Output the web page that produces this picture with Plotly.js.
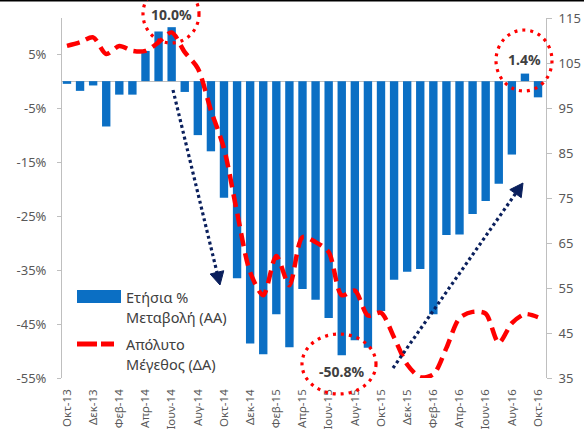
<!DOCTYPE html>
<html>
<head>
<meta charset="utf-8">
<script src="https://cdn.plot.ly/plotly-3.0.1.min.js"></script>
<style>html,body{margin:0;padding:0;background:#fff;}#chart{width:584px;height:434px;}</style>
</head>
<body>
<div id="chart"></div>
<script>
const months = ['Οκτ-13','Νοε-13','Δεκ-13','Ιαν-14','Φεβ-14','Μαρ-14','Απρ-14','Μαϊ-14','Ιουν-14','Ιουλ-14','Αυγ-14','Σεπ-14',
  'Οκτ-14','Νοε-14','Δεκ-14','Ιαν-15','Φεβ-15','Μαρ-15','Απρ-15','Μαϊ-15','Ιουν-15','Ιουλ-15','Αυγ-15','Σεπ-15',
  'Οκτ-15','Νοε-15','Δεκ-15','Ιαν-16','Φεβ-16','Μαρ-16','Απρ-16','Μαϊ-16','Ιουν-16','Ιουλ-16','Αυγ-16','Σεπ-16','Οκτ-16'];
const tickLabels = ['Οκτ-13','Δεκ-13','Φεβ-14','Απρ-14','Ιουν-14','Αυγ-14','Οκτ-14','Δεκ-14','Φεβ-15','Απρ-15',
  'Ιουν-15','Αυγ-15','Οκτ-15','Δεκ-15','Φεβ-16','Απρ-16','Ιουν-16','Αυγ-16','Οκτ-16'];
const yoyChange = [-0.5,-1.8,-0.8,-8.4,-2.5,-2.5,5.6,9.2,10.0,-2.0,-10.0,-13.0,
  -21.6,-36.5,-48.6,-50.6,-43.2,-49.3,-38.5,-40.5,-43.9,-50.8,-48.0,-49.4,
  -42.6,-36.8,-35.3,-34.8,-43.2,-28.5,-28.4,-24.6,-22.2,-19.0,-13.6,1.4,-3.0];
const absoluteSize = [108.8,109.6,110.7,107.0,108.8,107.7,107.7,109.6,111.8,107.4,103.8,94.5,
  86.0,71.8,58.5,53.4,62.1,55.6,66.3,65.2,63.0,53.4,54.4,48.9,
  49.5,44.0,38.0,35.2,35.8,41.7,48.3,49.7,49.3,42.8,47.2,49.2,48.5];
const leftTicks = [5,-5,-15,-25,-35,-45,-55];
const rightTicks = [35,45,55,65,75,85,95,105,115];
const seriesNames = ['Ετήσια %','Μεταβολή (ΑΑ)','Απόλυτο','Μέγεθος (ΔΑ)'];
const callouts = [{m:'Ιουν-14', text:'10.0%', shift:13}, {m:'Σεπ-16', text:'1.4%', shift:14}, {m:'Ιουλ-15', text:'-50.8%', shift:-16}];

const W = 584, H = 434, L = 62, R = 38, T = 18, B = 56;
const pw = W - L - R, ph = H - T - B;
const px = v => (v - L) / pw;
const py = v => (H - B - v) / ph;

const barColor = '#0B6FC4';
const navy = '#0A1F5C';
const gray = '#595959';
const FONT = 'Noto Sans, DejaVu Sans, sans-serif';

const traces = [
  {type:'bar', x: months, y: yoyChange, marker:{color:barColor}, yaxis:'y', name:seriesNames[0], showlegend:false, hoverinfo:'skip'},
  {type:'scatter', mode:'lines', x: months, y: absoluteSize, yaxis:'y2', name:seriesNames[2], showlegend:false,
   line:{color:'#FF0000', width:4.5, dash:'13px,7px', shape:'spline', smoothing:0.8}, hoverinfo:'skip'}
];

function circle(x0,y0,x1,y1){
  return {type:'circle', xref:'paper', yref:'paper', x0:px(x0), x1:px(x1), y0:py(y1), y1:py(y0),
    line:{color:'#FF0000', width:3.2, dash:'3px,5px'}};
}
function arrow(sx,sy,tx,ty){
  const dx = tx-sx, dy = ty-sy, len = Math.hypot(dx,dy);
  const ux = dx/len, uy = dy/len;
  const bx = tx - 13*ux, by = ty - 13*uy;
  const qx = -uy, qy = ux;
  const c1x = bx + 7*qx, c1y = by + 7*qy, c2x = bx - 7*qx, c2y = by - 7*qy;
  return [
    {type:'line', xref:'paper', yref:'paper', x0:px(sx), y0:py(sy), x1:px(bx+2*ux), y1:py(by+2*uy),
      line:{color:navy, width:3.2, dash:'3px,3px'}},
    {type:'path', xref:'paper', yref:'paper', fillcolor:navy, line:{color:navy, width:1},
      path:`M${px(tx)},${py(ty)} L${px(c1x)},${py(c1y)} L${px(c2x)},${py(c2y)} Z`}
  ];
}

const shapes = [
  {type:'line', xref:'paper', yref:'paper', x0:px(0), x1:px(W), y0:py(0.8), y1:py(0.8), line:{color:'#000', width:1.6}},
  circle(143,-15,199,43),
  circle(496,30,552,91),
  circle(302,334,376,394),
  ...arrow(173,90,220,285),
  ...arrow(393,368,523,183),
  {type:'rect', xref:'paper', yref:'paper', x0:px(77), x1:px(121), y0:py(303), y1:py(290), fillcolor:barColor, line:{width:0}},
  {type:'line', xref:'paper', yref:'paper', x0:px(77), x1:px(97), y0:py(344), y1:py(344), line:{color:'#FF0000', width:5}},
  {type:'line', xref:'paper', yref:'paper', x0:px(101), x1:px(114), y0:py(344), y1:py(344), line:{color:'#FF0000', width:5}}
];

const annotations = callouts.map(c => ({
  x: c.m, y: yoyChange[months.indexOf(c.m)], xref:'x', yref:'y', text:c.text, showarrow:false,
  yshift:c.shift, font:{family:FONT, size:14, color:'#404040', weight:'bold'}
}));
const legendY = [297, 317, 344, 364];
seriesNames.forEach((t,i) => annotations.push({
  xref:'paper', yref:'paper', x:px(124), y:py(legendY[i]), xanchor:'left', yanchor:'middle', showarrow:false,
  text:t, font:{family:FONT, size:14.5, color:'#404040'}
}));

const layout = {
  width: W, height: H,
  margin:{l:L, r:R, t:T, b:B, pad:0},
  paper_bgcolor:'#fff', plot_bgcolor:'#fff',
  bargap:0.36,
  font:{family:FONT, color:gray},
  xaxis:{type:'category', range:[-0.38, 36.61], tickvals:tickLabels, ticktext:tickLabels, tickangle:-90,
    showgrid:false, showline:false, ticks:'', zeroline:false, ticklabelstandoff:8,
    tickfont:{family:FONT, size:11.5, color:gray}},
  yaxis:{range:[-55, 11.7], tickvals:leftTicks, ticktext:leftTicks.map(v => v + '%'), showgrid:false,
    zeroline:true, zerolinecolor:'#BFBFBF', zerolinewidth:1,
    showline:true, linecolor:'#BFBFBF', linewidth:1, ticks:'outside', ticklen:4, tickcolor:'#BFBFBF',
    ticklabelstandoff:8, tickfont:{family:FONT, size:13, color:gray}},
  yaxis2:{range:[35, 115], tickvals:rightTicks, overlaying:'y', side:'right', showgrid:false, zeroline:false,
    showline:true, linecolor:'#BFBFBF', linewidth:1, ticks:'outside', ticklen:5, tickcolor:'#BFBFBF',
    ticklabelstandoff:4, tickfont:{family:FONT, size:13, color:gray}},
  shapes: shapes,
  annotations: annotations,
  showlegend:false
};

Plotly.newPlot('chart', traces, layout, {displayModeBar:false, staticPlot:true});
</script>
</body>
</html>
